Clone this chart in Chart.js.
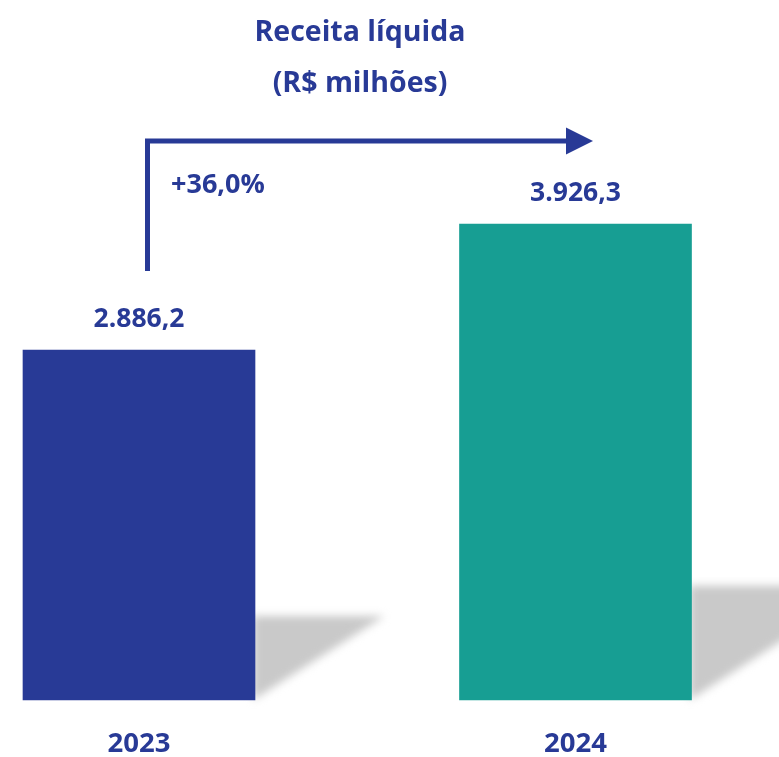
<!DOCTYPE html>
<html>
<head>
<meta charset="utf-8">
<script src="https://cdn.jsdelivr.net/npm/chart.js@4/dist/chart.umd.min.js"></script>
<style>
    html, body { margin: 0; padding: 0; background: #ffffff; }
    #wrap { width: 779px; height: 757px; }
</style>
</head>
<body>
<div id="wrap"><canvas id="revenueChart" width="779" height="757"></canvas></div>
<script>
const categories = ['2023', '2024'];
const revenue = [2886.2, 3926.3];
const revenueLabels = ['2.886,2', '3.926,3'];
const barColors = ['#283a96', '#179e93'];
const growthLabel = '+36,0%';
const titleLines = ['Receita líquida', '(R$ milhões)'];

const blue = '#283a96';
const fontFamily = "'Open Sans', 'Noto Sans', sans-serif";

// gray cast shadow to the right of each bar
const shadowPlugin = {
    id: 'barShadow',
    beforeDatasetsDraw(chart) {
        const c = chart.ctx;
        chart.getDatasetMeta(0).data.forEach(bar => {
            const h = bar.base - bar.y;
            const right = bar.x + bar.width / 2;
            const sh = h * 0.24;
            const sw = h * 0.37;
            c.save();
            c.filter = 'blur(4px)';
            c.fillStyle = '#c9c9c9';
            c.beginPath();
            c.moveTo(right - 2, bar.base - sh);
            c.lineTo(right + sw, bar.base - sh);
            c.lineTo(right - 2, bar.base);
            c.closePath();
            c.fill();
            c.restore();
        });
    }
};

// title, value labels and growth arrow
const annotatePlugin = {
    id: 'annotate',
    afterDatasetsDraw(chart) {
        const c = chart.ctx;
        c.save();
        c.fillStyle = blue;
        c.textAlign = 'center';
        c.textBaseline = 'alphabetic';

        c.font = "bold 28.5px " + fontFamily;
        c.fillText(titleLines[0], 360, 41);
        c.fillText(titleLines[1], 360, 92);

        c.font = "bold 26.5px " + fontFamily;
        chart.getDatasetMeta(0).data.forEach((bar, i) => {
            c.fillText(revenueLabels[i], bar.x, bar.y - 23);
        });

        c.textAlign = 'left';
        c.font = "bold 27px " + fontFamily;
        c.fillText(growthLabel, 171, 193);

        // arrow
        c.strokeStyle = blue;
        c.lineWidth = 5;
        c.beginPath();
        c.moveTo(147.5, 271);
        c.lineTo(147.5, 141);
        c.lineTo(568, 141);
        c.stroke();
        c.beginPath();
        c.moveTo(566, 127.5);
        c.lineTo(593, 141);
        c.lineTo(566, 154.5);
        c.closePath();
        c.fill();
        c.restore();
    }
};

const chart = new Chart(document.getElementById('revenueChart'), {
    type: 'bar',
    data: {
        labels: categories,
        datasets: [{
            data: revenue,
            backgroundColor: barColors,
            borderWidth: 0,
            barThickness: 232,
            clip: false
        }]
    },
    options: {
        responsive: false,
        animation: false,
        layout: {
            padding: { top: 94, left: 139, right: 203.5, bottom: 0 }
        },
        plugins: {
            legend: { display: false },
            tooltip: { enabled: false }
        },
        scales: {
            x: {
                offset: false,
                grid: { display: false, drawTicks: false },
                border: { display: false },
                afterFit: scale => { scale.height = 57; },
                ticks: {
                    color: blue,
                    padding: 28,
                    autoSkip: false,
                    maxRotation: 0,
                    font: { family: fontFamily, size: 27.5, weight: 'bold' }
                }
            },
            y: {
                display: false,
                min: 0,
                max: 5000
            }
        }
    },
    plugins: [shadowPlugin, annotatePlugin]
});
</script>
</body>
</html>
